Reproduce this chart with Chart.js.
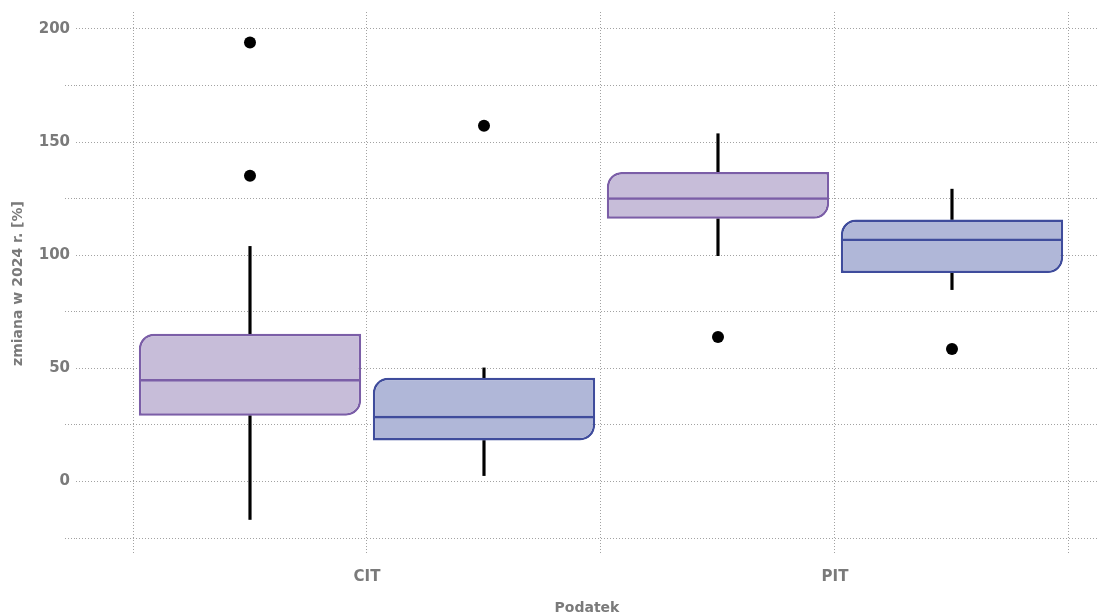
<!DOCTYPE html>
<html>
<head>
<meta charset="utf-8">
<script src="https://cdn.jsdelivr.net/npm/chart.js@4/dist/chart.umd.min.js"></script>
<style>
  html, body { margin: 0; padding: 0; background: #fff; }
  #wrap { width: 1098px; height: 613px; }
</style>
</head>
<body>
<div id="wrap"><canvas id="graph" width="1098" height="613"></canvas></div>
<script>
// categories on the x axis, one box per series inside each
const categories = ["CIT", "PIT"];

// five-number summaries, one value per category (CIT, PIT)
const purpleMin = [-16.8, 99.8];
const purpleQ1 = [29.1, 116.1];
const purpleMed = [45.3, 125.6];
const purpleQ3 = [65.3, 136.8];
const purpleMax = [103.9, 153.7];
const purpleOutliers = [[194.0, 135.1], [63.9]];

const blueMin = [2.6, 84.8];
const blueQ1 = [18.1, 92.1];
const blueMed = [29.1, 107.4];
const blueQ3 = [45.8, 115.8];
const blueMax = [50.2, 129.2];
const blueOutliers = [[157.2], [58.6]];

const yTicks = [-25, 0, 25, 50, 75, 100, 125, 150, 175, 200];
const xTicks = [0.5, 1, 1.5, 2, 2.5];

const purpleFill = "#c7bdd9";
const purpleLine = "#7b5ea7";
const blueFill = "#b0b7d8";
const blueLine = "#3f4c9c";
const textGrey = "#7a7a7a";
const gridGrey = "#a2a2a2";
const none = "rgba(0,0,0,0)";

// dodge: purple left of the category, blue right
const pos = (i, side) => i + 1 + side * 0.25;

const boxData = (q1, q3, side) => q1.map((v, i) => ({ x: pos(i, side), y: [v, q3[i]] }));
const medData = (q1, med, side) => q1.map((v, i) => ({ x: pos(i, side), y: [v, med[i]] }));
const whiskerData = (min, q1, q3, max, side) =>
  min.flatMap((v, i) => [
    { x: pos(i, side), y: [q3[i], max[i]] },
    { x: pos(i, side), y: [v, q1[i]] },
  ]);
const outlierData = (list, side) =>
  list.flatMap((vals, i) => vals.map(v => ({ x: pos(i, side), y: v })));

const boxStyle = {
  grouped: false,
  categoryPercentage: 1,
  barPercentage: 0.95,
  borderWidth: 2.5,
  borderSkipped: false,
  inflateAmount: 0,
  borderRadius: { topLeft: 15, bottomRight: 15, topRight: 0, bottomLeft: 0 },
};
const medStyle = {
  grouped: false,
  categoryPercentage: 1,
  barPercentage: 0.95,
  backgroundColor: none,
  borderWidth: { top: 2.5, left: 0, right: 0, bottom: 0 },
  borderSkipped: false,
  inflateAmount: 0,
  borderRadius: 0,
};
const whiskerStyle = {
  grouped: false,
  barThickness: 2.5,
  backgroundColor: "#000",
  borderWidth: 0,
};

const tickFont = { family: "DejaVu Sans", size: 15, weight: "bold" };
const titleFont = { family: "DejaVu Sans", size: 14, weight: "bold" };
const isMajor = v => v % 50 === 0;

new Chart(document.getElementById("graph"), {
  type: "bar",
  data: {
    datasets: [
      { type: "scatter", data: outlierData(purpleOutliers, -1), pointRadius: 6, backgroundColor: "#000", borderWidth: 0, order: 0 },
      { type: "scatter", data: outlierData(blueOutliers, 1), pointRadius: 6, backgroundColor: "#000", borderWidth: 0, order: 0 },
      { data: medData(purpleQ1, purpleMed, -1), borderColor: purpleLine, ...medStyle, order: 1 },
      { data: medData(blueQ1, blueMed, 1), borderColor: blueLine, ...medStyle, order: 1 },
      { data: boxData(purpleQ1, purpleQ3, -1), backgroundColor: purpleFill, borderColor: purpleLine, ...boxStyle, order: 2 },
      { data: boxData(blueQ1, blueQ3, 1), backgroundColor: blueFill, borderColor: blueLine, ...boxStyle, order: 2 },
      { data: whiskerData(purpleMin, purpleQ1, purpleQ3, purpleMax, -1), ...whiskerStyle, order: 3 },
      { data: whiskerData(blueMin, blueQ1, blueQ3, blueMax, 1), ...whiskerStyle, order: 3 },
    ],
  },
  options: {
    responsive: false,
    animation: false,
    devicePixelRatio: 1,
    layout: { autoPadding: false, padding: { top: 12, right: 0, left: 0, bottom: 0 } },
    plugins: { legend: { display: false }, tooltip: { enabled: false } },
    scales: {
      x: {
        type: "linear",
        offset: false,
        min: 0.3782,
        max: 2.562,
        afterFit: scale => { scale.height = 58; },
        afterBuildTicks: scale => {
          scale.ticks = xTicks.map(v => ({ value: v }));
        },
        ticks: {
          includeBounds: false,
          autoSkip: false,
          maxRotation: 0,
          padding: 0,
          color: textGrey,
          font: tickFont,
          callback: v => (Number.isInteger(v) ? categories[v - 1] : ""),
        },
        grid: { offset: false, color: gridGrey, lineWidth: 1, drawTicks: true, tickLength: 13, tickColor: none },
        border: { display: false, dash: [1, 2] },
        title: {
          display: true,
          text: "Podatek",
          color: textGrey,
          font: titleFont,
          padding: { top: 0, bottom: -4 },
        },
      },
      y: {
        min: -32.5,
        max: 207.5,
        afterFit: scale => { scale.width = 76; },
        afterBuildTicks: scale => {
          scale.ticks = yTicks.map(v => ({ value: v }));
        },
        ticks: {
          includeBounds: false,
          padding: -5,
          color: textGrey,
          font: tickFont,
          callback: v => (isMajor(v) ? String(v) : ""),
        },
        // minor lines reach further left, under where labels would sit
        grid: {
          color: gridGrey,
          lineWidth: 1,
          drawTicks: true,
          tickLength: 11,
          tickBorderDash: [1, 2],
          tickColor: ctx => (ctx.tick && isMajor(ctx.tick.value) ? none : gridGrey),
        },
        border: { display: false, dash: [1, 2] },
        title: {
          display: true,
          text: "zmiana w 2024 r. [%]",
          color: textGrey,
          font: titleFont,
          padding: { top: 10, bottom: 0 },
        },
      },
    },
  },
});
</script>
</body>
</html>
